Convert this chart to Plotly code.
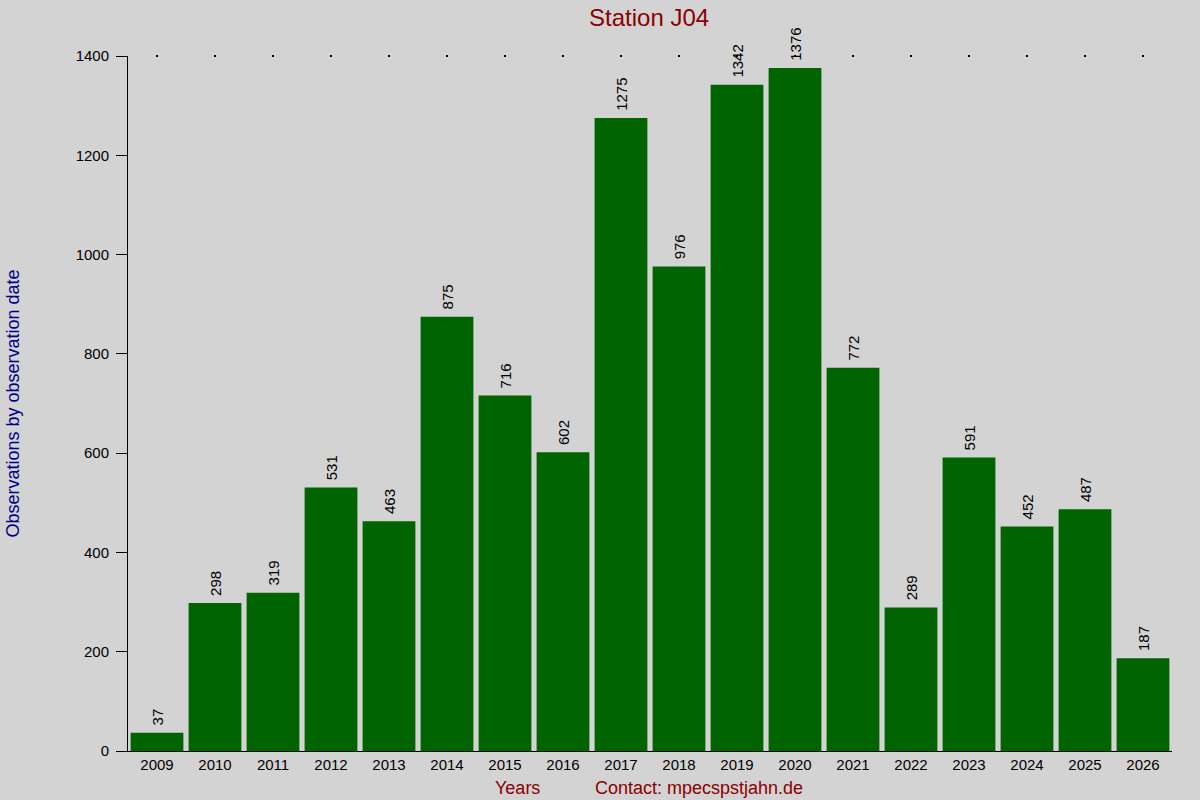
import plotly.graph_objects as go

# Observations per year at station J04
years = ['2009', '2010', '2011', '2012', '2013', '2014', '2015', '2016', '2017',
         '2018', '2019', '2020', '2021', '2022', '2023', '2024', '2025', '2026']
counts = [37, 298, 319, 531, 463, 875, 716, 602, 1275,
          976, 1342, 1376, 772, 289, 591, 452, 487, 187]
y_max = 1400

font_family = 'Liberation Sans, Arial, sans-serif'
bg = '#D3D3D3'

fig = go.Figure()

fig.add_trace(go.Bar(
    x=years,
    y=counts,
    marker={'color': '#006400', 'line': {'width': 0}},
    # leading no-break spaces push the rotated labels a bit off the bar tops
    text=['\u00a0' + str(c) for c in counts],
    textposition='outside',
    textangle=-90,
    textfont={'size': 15, 'color': 'black', 'family': font_family},
    cliponaxis=False,
    hoverinfo='x+y',
))

# tiny tick dots along the top edge
fig.add_trace(go.Scatter(
    x=years,
    y=[y_max] * len(years),
    mode='markers',
    marker={'size': 2, 'color': 'black', 'symbol': 'square'},
    cliponaxis=False,
    hoverinfo='skip',
))

fig.update_layout(
    width=1200,
    height=800,
    paper_bgcolor=bg,
    plot_bgcolor=bg,
    showlegend=False,
    bargap=0.09,
    margin={'l': 126, 'r': 28, 't': 56, 'b': 49},
    font={'family': font_family, 'size': 15, 'color': 'black'},
    title={
        'text': 'Station J04',
        'x': 0.5409,
        'xanchor': 'center',
        'y': 0.978,
        'yanchor': 'middle',
        'font': {'size': 24, 'color': '#8B0000', 'family': font_family},
    },
    xaxis={
        'type': 'category',
        'range': [-0.5, len(years) - 0.5],
        'showline': True,
        'linecolor': 'black',
        'linewidth': 1,
        'ticks': '',
        'showgrid': False,
        'zeroline': False,
        'tickfont': {'size': 15, 'color': 'black'},
    },
    yaxis={
        'range': [0, y_max],
        'tickvals': [0, 200, 400, 600, 800, 1000, 1200, 1400],
        'showline': True,
        'linecolor': 'black',
        'linewidth': 1,
        'ticks': 'outside',
        'ticklen': 11,
        'tickcolor': 'black',
        'ticklabelstandoff': 4,
        'showgrid': False,
        'zeroline': False,
        'tickfont': {'size': 15, 'color': 'black'},
        'title': {
            'text': 'Observations by observation date',
            'font': {'size': 18, 'color': '#00008B'},
            'standoff': 51,
        },
    },
    annotations=[
        {'text': 'Years', 'xref': 'paper', 'yref': 'paper', 'x': 0.373, 'y': -0.036,
         'xanchor': 'center', 'yanchor': 'top', 'showarrow': False,
         'font': {'size': 18, 'color': '#8B0000'}},
        {'text': 'Contact: mpecspstjahn.de', 'xref': 'paper', 'yref': 'paper', 'x': 0.547,
         'y': -0.036, 'xanchor': 'center', 'yanchor': 'top', 'showarrow': False,
         'font': {'size': 18, 'color': '#8B0000'}},
    ],
)

fig.write_html('out.html', config={'displayModeBar': False},
               post_script="document.body.style.margin='0';")
